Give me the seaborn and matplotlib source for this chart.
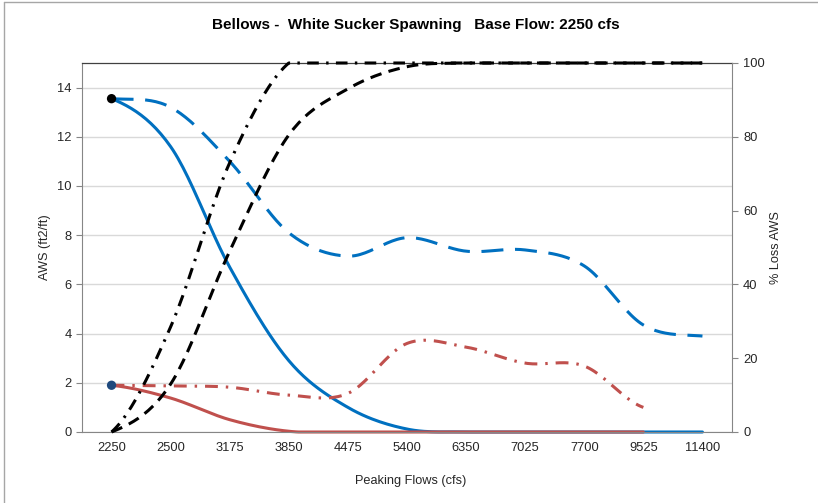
import numpy as np
import pandas as pd
import seaborn as sns
import matplotlib.pyplot as plt
from matplotlib.lines import Line2D

# peaking flow categories (cfs)
flows = ['2250', '2500', '3175', '3850', '4475', '5400', '6350', '7025', '7700', '9525', '11400']

# AWS (ft2/ft) - left axis
aws_blue = [13.55, 11.6, 6.7, 2.9, 1.0, 0.12, 0.0, 0.0, 0.0, 0.0, 0.0]
aws_blue_dash = [13.55, 13.2, 11.0, 8.1, 7.15, 7.9, 7.35, 7.4, 6.75, 4.35, 3.9]
aws_red = [1.9, 1.38, 0.5, 0.03, 0.0, 0.0, 0.0, 0.0, 0.0, 0.0]
aws_red_dashdot = [1.9, 1.87, 1.82, 1.5, 1.57, 3.6, 3.45, 2.8, 2.68, 1.0]

# % loss AWS - right axis
loss_dash = [0, 13, 49, 80.5, 93, 99, 100, 100, 100, 100, 100]
loss_dashdot = [0, 28.5, 73, 100, 100, 100, 100, 100, 100, 100, 100]

# base flow points
base_blue = [13.55]
base_red = [1.9]

BLUE = '#0070C0'
RED = '#C0504D'
TXT = '#262626'


def smooth(vals, lo, hi, n=25):
    # Excel-style smoothed line (bezier through the points), for drawing only
    y = np.asarray(vals, float)
    yp = np.concatenate([[y[0]], y, [y[-1]]])
    t = np.linspace(0, 1, n)
    xs, ys = [], []
    for i in range(len(y) - 1):
        p0, p1, p2, p3 = yp[i:i + 4]
        c1 = p1 + (p2 - p0) / 6
        c2 = p2 - (p3 - p1) / 6
        b = (1 - t) ** 3 * p1 + 3 * (1 - t) ** 2 * t * c1 + 3 * (1 - t) * t ** 2 * c2 + t ** 3 * p2
        xs.append(i + t)
        ys.append(b)
    return pd.DataFrame({'x': np.concatenate(xs), 'y': np.clip(np.concatenate(ys), lo, hi)})


sns.set_style('white')
plt.rcParams['font.family'] = ['Liberation Sans', 'DejaVu Sans']

fig = plt.figure(figsize=(8.18, 5.03), dpi=100)
ax = fig.add_axes([82 / 818, 71 / 503, 650 / 818, 369 / 503])
ax2 = ax.twinx()

kw = dict(estimator=None, sort=False, lw=2.2, clip_on=False, legend=False)

sns.lineplot(data=smooth(aws_blue, 0, 15), x='x', y='y', ax=ax, color=BLUE, **kw)
sns.lineplot(data=smooth(aws_blue_dash, 0, 15), x='x', y='y', ax=ax, color=BLUE,
             linestyle=(0, (7.2, 3.8)), **kw)
sns.lineplot(data=smooth(aws_red, 0, 15), x='x', y='y', ax=ax, color=RED, **kw)
sns.lineplot(data=smooth(aws_red_dashdot, 0, 15), x='x', y='y', ax=ax, color=RED,
             linestyle=(0, (4.2, 2.6, 0.8, 2.6)), **kw)
sns.scatterplot(x=[0], y=base_blue, ax=ax, color='black', s=45, zorder=5, clip_on=False, edgecolor='none')
sns.scatterplot(x=[0], y=base_red, ax=ax, color='#1F497D', s=45, zorder=5, clip_on=False, edgecolor='none')

sns.lineplot(data=smooth(loss_dash, 0, 100), x='x', y='y', ax=ax2, color='black',
             linestyle=(0, (3.8, 2.4)), **kw)
sns.lineplot(data=smooth(loss_dashdot, 0, 100), x='x', y='y', ax=ax2, color='black',
             linestyle=(0, (3.8, 2.4, 0.8, 2.4)), **kw)

# left axis
ax.set_xlim(-0.5, 10.5)
ax.set_ylim(0, 15)
ax.set_yticks(range(0, 15, 2))
ax.grid(axis='y', color='#D9D9D9', lw=1)
ax.set_axisbelow(True)
ax.set_xticks(np.arange(-0.5, 11, 1))
ax.set_xticklabels([])
ax.set_xticks(range(len(flows)), minor=True)
ax.set_xticklabels(flows, minor=True)
ax.tick_params(axis='x', which='major', length=4, color='#868686', direction='out')
ax.tick_params(axis='x', which='minor', length=0, pad=7, labelsize=9.3, labelcolor=TXT)
ax.tick_params(axis='y', left=True, length=4, color='#868686', direction='out', pad=3.5,
               labelsize=9.3, labelcolor=TXT)
for s in ['left', 'bottom']:
    ax.spines[s].set_color('#868686')
ax.spines['top'].set_color('#404040')
ax.spines['top'].set_linewidth(0.9)
ax.spines['right'].set_visible(False)

# right axis
ax2.set_ylim(0, 100)
ax2.set_yticks(range(0, 101, 20))
ax2.tick_params(axis='y', right=True, length=4, color='#868686', direction='out', pad=4,
                labelsize=9.3, labelcolor=TXT)
ax2.spines['right'].set_color('#868686')
for s in ['left', 'top', 'bottom']:
    ax2.spines[s].set_visible(False)
ax2.grid(False)

ax.set_xlabel('Peaking Flows (cfs)', fontsize=9.2, color=TXT)
ax.xaxis.set_label_coords(0.506, -0.116)
ax.set_ylabel('AWS (ft2/ft)', fontsize=9.2, color=TXT)
ax.yaxis.set_label_coords(-0.048, 0.5)
ax2.set_ylabel('% Loss AWS', fontsize=9.2, color=TXT)
ax2.yaxis.set_label_coords(1.058, 0.5)

fig.text(416 / 818, 1 - 25 / 503, 'Bellows -  White Sucker Spawning   Base Flow: 2250 cfs',
         ha='center', va='center', fontsize=11, fontweight='bold', color='black')

# chart frame (left and top edges)
fig.add_artist(Line2D([4 / 818, 4 / 818], [0, 1 - 2 / 503], transform=fig.transFigure,
                      color='#A6A6A6', lw=1))
fig.add_artist(Line2D([4 / 818, 1], [1 - 2 / 503, 1 - 2 / 503], transform=fig.transFigure,
                      color='#A6A6A6', lw=1))

fig.savefig('out.png', dpi=100)
